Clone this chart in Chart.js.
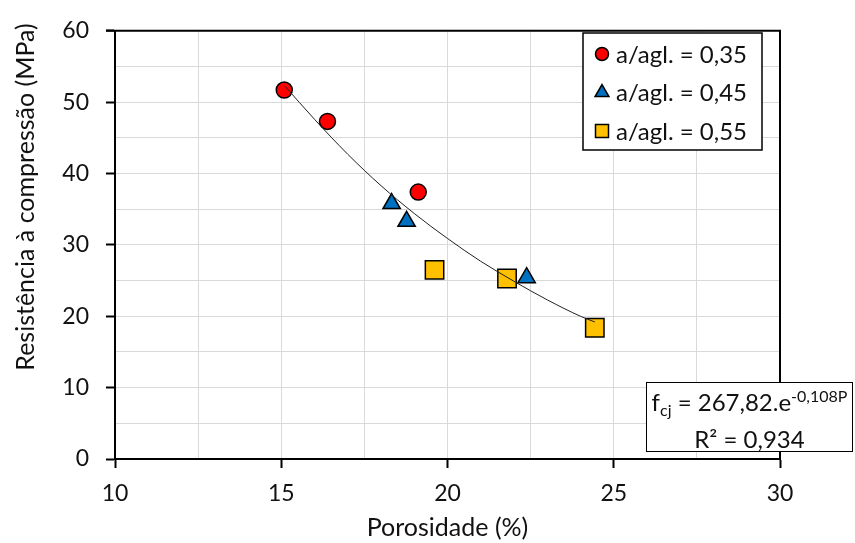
<!DOCTYPE html>
<html>
<head>
<meta charset="utf-8">
<script src="https://cdn.jsdelivr.net/npm/chart.js@4.4.1/dist/chart.umd.min.js"></script>
<style>
  body { margin: 0; background: #fff; }
  #wrap { position: relative; width: 855px; height: 543px; }
  #eq {
    position: absolute; left: 646px; top: 382px; width: 207px; height: 70px;
    border: 1.5px solid #000; background: #fff; box-sizing: border-box;
    font-family: Lato, sans-serif; font-size: 24px; color: #111;
    text-align: center; line-height: 37px; padding-top: 0px;
  }
  #eq sup { font-size: 16px; vertical-align: 9px; line-height: 0; }
  #eq sub { font-size: 16px; vertical-align: -5px; line-height: 0; }
</style>
</head>
<body>
<div id="wrap">
  <canvas id="myChart" width="855" height="543"></canvas>
  <div id="eq">f<sub>cj</sub> = 267,82.e<sup>-0,108P</sup><br>R² = 0,934</div>
</div>
<script>
// porosity (%) and compressive strength (MPa) per w/b ratio
const por035 = [15.09, 16.39, 19.12];
const res035 = [51.7, 47.3, 37.4];
const por045 = [18.32, 18.77, 22.38];
const res045 = [35.8, 33.3, 25.4];
const por055 = [19.61, 21.79, 24.43];
const res055 = [26.5, 25.3, 18.4];

// trend curve
const trendX = [15.1, 16, 17, 18, 19, 20, 21, 22, 23, 24, 24.43];
const trendY = [52.3, 47.6, 42.7, 38.3, 34.4, 30.9, 27.7, 24.9, 22.3, 20.0, 19.2];

const seriesNames = ["a/agl. = 0,35", "a/agl. = 0,45", "a/agl. = 0,55"];
const xTicks = [10, 15, 20, 25, 30];
const yTicks = [0, 10, 20, 30, 40, 50, 60];

const FONT = "Lato, sans-serif";
const TXT = "#111";

function pts(xs, ys) {
  return xs.map((x, i) => ({ x: x, y: ys[i] }));
}

// draw a small marker for the legend
function marker(ctx, style, x, y, r, fill) {
  ctx.beginPath();
  if (style === "circle") {
    ctx.arc(x, y, r, 0, Math.PI * 2);
  } else if (style === "triangle") {
    ctx.moveTo(x, y - r);
    ctx.lineTo(x + r * Math.sin(Math.PI * 2 / 3), y + r / 2);
    ctx.lineTo(x - r * Math.sin(Math.PI * 2 / 3), y + r / 2);
    ctx.closePath();
  } else {
    ctx.rect(x - r, y - r, r * 2, r * 2);
  }
  ctx.fillStyle = fill;
  ctx.fill();
  ctx.lineWidth = 1.5;
  ctx.strokeStyle = "#000";
  ctx.stroke();
}

const extras = {
  id: "extras",
  afterDraw(chart) {
    const ctx = chart.ctx;
    const a = chart.chartArea;
    ctx.save();
    // top and right frame
    ctx.strokeStyle = "#000";
    ctx.lineWidth = 2;
    ctx.beginPath();
    ctx.moveTo(a.left - 9, a.top);
    ctx.lineTo(a.right, a.top);
    ctx.lineTo(a.right, a.bottom);
    ctx.stroke();

    // y title
    ctx.fillStyle = TXT;
    ctx.font = "25px " + FONT;
    ctx.textAlign = "center";
    ctx.textBaseline = "middle";
    ctx.translate(26, 197);
    ctx.rotate(-Math.PI / 2);
    ctx.fillText("Resistência à compressão (MPa)", 0, 0);
    ctx.restore();

    // legend box
    ctx.save();
    ctx.fillStyle = "#fff";
    ctx.fillRect(583, 33, 179, 117);
    ctx.strokeStyle = "#000";
    ctx.lineWidth = 1.5;
    ctx.strokeRect(583, 33, 179, 117);
    const sizes = { circle: 6.5, triangle: 8, rect: 6.5 };
    let row = 0;
    chart.data.datasets.forEach((ds) => {
      if (!ds.inLegend) return;
      const y = 54 + row * 38.5;
      marker(ctx, ds.pointStyle, 602, y, sizes[ds.pointStyle], ds.backgroundColor);
      ctx.fillStyle = TXT;
      ctx.font = "24px " + FONT;
      ctx.textAlign = "left";
      ctx.textBaseline = "middle";
      ctx.fillText(ds.label, 616, y + 1);
      row++;
    });
    ctx.restore();
  }
};

const ctx = document.getElementById("myChart");

new Chart(ctx, {
  type: "scatter",
  data: {
    datasets: [
      {
        type: "line",
        label: "trend",
        data: pts(trendX, trendY),
        borderColor: "#222",
        borderWidth: 1,
        pointRadius: 0,
        fill: false,
        cubicInterpolationMode: "monotone",
        order: 0,
      },
      {
        label: seriesNames[0],
        inLegend: true,
        data: pts(por035, res035),
        pointStyle: "circle",
        pointRadius: 8,
        backgroundColor: "#ff0000",
        borderColor: "#000",
        borderWidth: 1.5,
        order: 1,
      },
      {
        label: seriesNames[1],
        inLegend: true,
        data: pts(por045, res045),
        pointStyle: "triangle",
        pointRadius: 10,
        backgroundColor: "#0070c0",
        borderColor: "#000",
        borderWidth: 1.5,
        order: 1,
      },
      {
        label: seriesNames[2],
        inLegend: true,
        data: pts(por055, res055),
        pointStyle: "rect",
        pointRadius: 13,
        backgroundColor: "#ffc000",
        borderColor: "#000",
        borderWidth: 1.5,
        order: 1,
      },
    ],
  },
  options: {
    responsive: false,
    animation: false,
    events: [],
    layout: { padding: { left: 0, right: 75, top: 27, bottom: 0 } },
    scales: {
      x: {
        type: "linear",
        min: 10,
        max: 30,
        afterFit: (s) => { s.height = 84; },
        border: { color: "#000", width: 2 },
        grid: {
          color: "#d9d9d9",
          lineWidth: 1,
          tickLength: 9,
          tickWidth: 2,
          tickColor: (c) => (xTicks.includes(c.tick.value) ? "#000" : "rgba(0,0,0,0)"),
        },
        ticks: {
          stepSize: 2.5,
          autoSkip: false,
          maxRotation: 0,
          padding: 12,
          color: TXT,
          font: { family: FONT, size: 23 },
          callback: (v) => (xTicks.includes(v) ? v : ""),
        },
        title: {
          display: true,
          text: "Porosidade (%)",
          color: TXT,
          font: { family: FONT, size: 25 },
          padding: { top: 0, bottom: 0 },
        },
      },
      y: {
        min: 0,
        max: 60,
        afterFit: (s) => { s.width = 115; },
        border: { color: "#000", width: 2 },
        grid: {
          color: "#d9d9d9",
          lineWidth: 1,
          tickLength: 9,
          tickWidth: 2,
          tickColor: (c) => (yTicks.includes(c.tick.value) ? "#000" : "rgba(0,0,0,0)"),
        },
        ticks: {
          stepSize: 5,
          autoSkip: false,
          padding: 17,
          color: TXT,
          font: { family: FONT, size: 23 },
          callback: (v) => (yTicks.includes(v) ? v : ""),
        },
      },
    },
    plugins: {
      legend: { display: false },
      tooltip: { enabled: false },
    },
  },
  plugins: [extras],
});
</script>
</body>
</html>
